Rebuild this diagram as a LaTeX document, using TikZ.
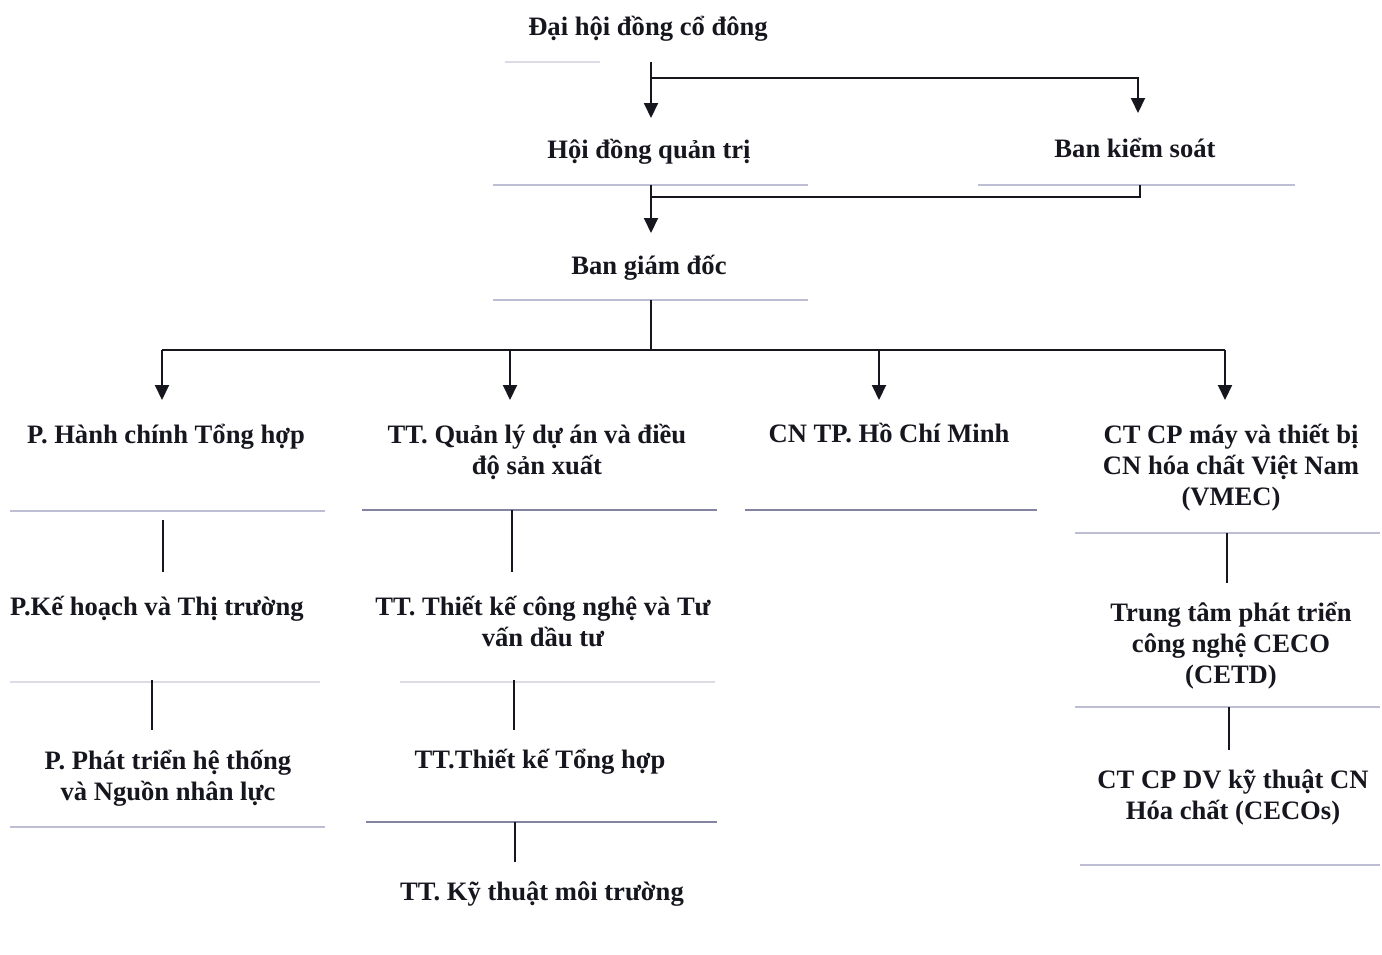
\documentclass[tikz,border=0pt]{standalone}
\usepackage{fontspec}
\setmainfont{Liberation Serif}
\usetikzlibrary{arrows.meta}
\definecolor{ink}{HTML}{16161F}
\definecolor{faint}{HTML}{BDBDD4}
\definecolor{faintdark}{HTML}{8484A2}
\definecolor{veryfaint}{HTML}{DCDCE6}
\tikzset{
 lbl/.style={font=\fontsize{26.6}{31}\selectfont\bfseries, text=ink, align=center, anchor=base, inner sep=0pt},
 link/.style={draw=ink, line width=2pt},
 arr/.style={link, -{Triangle[width=14pt,length=15pt]}},
 rule/.style={draw=faint, line width=2pt},
 ruledark/.style={draw=faintdark, line width=2pt},
 rulelight/.style={draw=veryfaint, line width=1.5pt},
}
\begin{document}
\begin{tikzpicture}[x=1pt,y=-1pt]
\useasboundingbox[fill=white] (0,0) rectangle (1382,954);

% nodes (anchor base = baseline of the last line)
\node[lbl] (dhdcd) at (648,35) {Đại hội đồng cổ đông};
\node[lbl] (hdqt) at (649,158) {Hội đồng quản trị};
\node[lbl] (bks) at (1135,157) {Ban kiểm soát};
\node[lbl] (bgd) at (649,274) {Ban giám đốc};
\node[lbl] (phc) at (166,443) {P. Hành chính Tổng hợp};
\node[lbl] (ttql) at (537,474) {TT. Quản lý dự án và điều\\độ sản xuất};
\node[lbl] (cntp) at (889,442) {CN TP. Hồ Chí Minh};
\node[lbl] (vmec) at (1231,505) {CT CP máy và thiết bị\\CN hóa chất Việt Nam\\(VMEC)};
\node[lbl] (pkh) at (157,615) {P.Kế hoạch và Thị trường};
\node[lbl] (tttk) at (543,646) {TT. Thiết kế công nghệ và Tư\\vấn dầu tư};
\node[lbl] (ppt) at (168,800) {P. Phát triển hệ thống\\và Nguồn nhân lực};
\node[lbl] (tttkth) at (540,768) {TT.Thiết kế Tổng hợp};
\node[lbl] (ttkt) at (542,900) {TT. Kỹ thuật môi trường};
\node[lbl] (cetd) at (1231,683) {Trung tâm phát triển\\công nghệ CECO\\(CETD)};
\node[lbl] (cecos) at (1233,819) {CT CP DV kỹ thuật CN\\Hóa chất (CECOs)};

% faint scan rules
\draw[rulelight] (505,62) -- (600,62);
\draw[rule] (493,185) -- (808,185);
\draw[rule] (978,185) -- (1295,185);
\draw[rule] (493,300) -- (808,300);
\draw[rule] (10,511) -- (325,511);
\draw[ruledark] (362,510) -- (717,510);
\draw[ruledark] (745,510) -- (1037,510);
\draw[rule] (1075,533) -- (1380,533);
\draw[rulelight] (10,682) -- (320,682);
\draw[rulelight] (400,682) -- (715,682);
\draw[rule] (1075,707) -- (1380,707);
\draw[rule] (10,827) -- (325,827);
\draw[ruledark] (366,822) -- (717,822);
\draw[rule] (1080,865) -- (1380,865);

% coordinates
\coordinate (dhdcd-out) at (651,62);
\coordinate (j1) at (651,78);
\coordinate (j1r) at (1138,78);
\coordinate (hdqt-in) at (651,118);
\coordinate (bks-in) at (1138,113);
\coordinate (hdqt-out) at (651,185);
\coordinate (j2) at (651,197);
\coordinate (j2r) at (1140,197);
\coordinate (bks-out) at (1140,185);
\coordinate (bgd-in) at (651,233);
\coordinate (bgd-out) at (651,300);
\coordinate (j3) at (651,350);
\coordinate (b1) at (162,350);
\coordinate (b2) at (510,350);
\coordinate (b3) at (879,350);
\coordinate (b4) at (1225,350);
\coordinate (phc-in) at (162,400);
\coordinate (ttql-in) at (510,400);
\coordinate (cntp-in) at (879,400);
\coordinate (vmec-in) at (1225,400);

% connectors
\draw[arr] (dhdcd-out) -- (hdqt-in);
\draw[arr] (j1) -- (j1r) -- (bks-in);
\draw[arr] (hdqt-out) -- (bgd-in);
\draw[link] (j2) -- (j2r) -- (bks-out);
\draw[link] (bgd-out) -- (j3);
\draw[link] (b1) -- (b4);
\draw[arr] (b1) -- (phc-in);
\draw[arr] (b2) -- (ttql-in);
\draw[arr] (b3) -- (cntp-in);
\draw[arr] (b4) -- (vmec-in);

\coordinate (phc-out) at (163,520);  \coordinate (pkh-in) at (163,572);
\coordinate (pkh-out) at (152,680);  \coordinate (ppt-in) at (152,730);
\coordinate (ttql-out) at (512,510); \coordinate (tttk-in) at (512,572);
\coordinate (tttk-out) at (514,680); \coordinate (tttkth-in) at (514,730);
\coordinate (tttkth-out) at (515,822); \coordinate (ttkt-in) at (515,862);
\coordinate (vmec-out) at (1227,533); \coordinate (cetd-in) at (1227,583);
\coordinate (cetd-out) at (1229,707); \coordinate (cecos-in) at (1229,750);
\draw[link] (phc-out) -- (pkh-in);
\draw[link] (pkh-out) -- (ppt-in);
\draw[link] (ttql-out) -- (tttk-in);
\draw[link] (tttk-out) -- (tttkth-in);
\draw[link] (tttkth-out) -- (ttkt-in);
\draw[link] (vmec-out) -- (cetd-in);
\draw[link] (cetd-out) -- (cecos-in);
\end{tikzpicture}
\end{document}
